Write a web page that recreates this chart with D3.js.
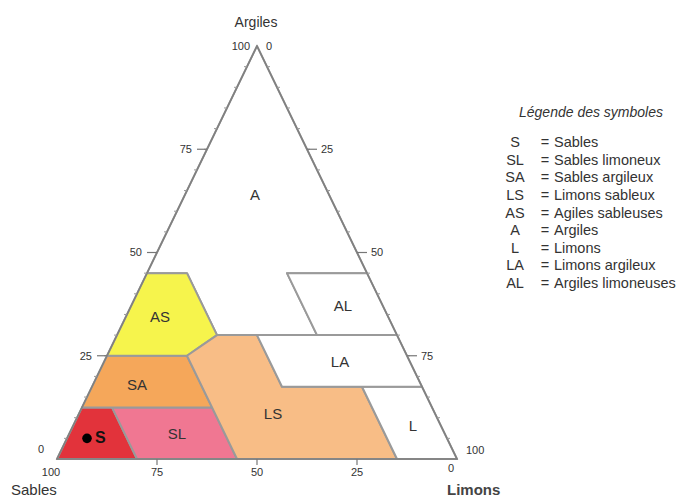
<!DOCTYPE html>
<html>
<head>
<meta charset="utf-8">
<script src="https://cdn.jsdelivr.net/npm/d3@7"></script>
<style>
  body { margin: 0; background: #fff; }
  text { font-family: "Liberation Sans", Arial, sans-serif; fill: #333; }
</style>
</head>
<body>
<div id="chart"></div>
<script>
// classes du triangle, sommets en (sables %, argiles %)
var classCodes = ["A", "S", "SL", "SA", "AS", "LS", "L", "LA", "AL"];
var classColors = ["#ffffff", "#e2333b", "#f07792", "#f5a75a", "#f6f44c", "#f8bd86", "#ffffff", "#ffffff", "#ffffff"];
var classPolys = [
  [[0,100],[55,45],[45,45],[45,30],[20,30],[20,45],[0,45]],
  [[100,0],[80,0],[80,12.5],[87.5,12.5]],
  [[80,0],[55,0],[55,12.5],[80,12.5]],
  [[87.5,12.5],[55,12.5],[55,25],[75,25]],
  [[75,25],[55,25],[50,27.5],[45,30],[45,45],[55,45]],
  [[55,0],[15,0],[15,17.5],[35,17.5],[35,30],[45,30],[50,27.5],[55,25]],
  [[15,0],[0,0],[0,17.5],[15,17.5]],
  [[35,17.5],[0,17.5],[0,30],[35,30]],
  [[20,30],[0,30],[0,45],[20,45]]
];
var classLabelAt = [[18.5,64],[86.5,5.3],[67,6],[71,18],[57,34.5],[40.5,11],[7,8],[17.5,23.5],[10,37]];

// echantillon
var samples = [[90, 5]];

var ticks = [0, 25, 50, 75, 100];
var minorTicks = d3.range(5, 100, 5);

var legendCodes = ["S", "SL", "SA", "LS", "AS", "A", "L", "LA", "AL"];
var legendNames = ["Sables", "Sables limoneux", "Sables argileux", "Limons sableux",
                   "Agiles sableuses", "Argiles", "Limons", "Limons argileux", "Argiles limoneuses"];

// 1: svg
var width = 682, height = 498;
var svg = d3.select("#chart").append("svg")
    .attr("width", width)
    .attr("height", height);

// 2: echelles
var x = d3.scaleLinear().domain([0, 100]).range([57, 457]);   // limons + argiles/2
var y = d3.scaleLinear().domain([0, 100]).range([459, 46]);   // argiles

function pt(sand, clay) {
  var silt = 100 - sand - clay;
  return [x(silt + clay / 2), y(clay)];
}

var line = d3.line().x(function(d){ return pt(d[0], d[1])[0]; })
                    .y(function(d){ return pt(d[0], d[1])[1]; })
                    .curve(d3.curveLinearClosed);

// 3: zones
svg.append("g").selectAll("path")
  .data(classPolys)
  .enter().append("path")
    .attr("d", line)
    .style("fill", function(d, i){ return classColors[i]; })
    .style("stroke", "#9a9a9a")
    .style("stroke-width", 2)
    .style("stroke-linejoin", "round");

// contour du triangle
svg.append("path")
  .datum([[100,0],[0,0],[0,100]])
  .attr("d", line)
  .style("fill", "none")
  .style("stroke", "#808080")
  .style("stroke-width", 1.6);

// graduations mineures
var g = svg.append("g").style("stroke", "#999").style("stroke-width", 1);
minorTicks.forEach(function(t) {
  var l = pt(100 - t, t), r = pt(0, t);
  g.append("line").attr("x1", l[0] - 3).attr("x2", l[0]).attr("y1", l[1]).attr("y2", l[1]);
  g.append("line").attr("x1", r[0]).attr("x2", r[0] + 3).attr("y1", r[1]).attr("y2", r[1]);
});

// graduations majeures
var tg = svg.append("g").style("font-size", "11px");
ticks.forEach(function(t) {
  // gauche : argiles
  var l = pt(100 - t, t);
  if (t > 0 && t < 100) {
    tg.append("line").attr("x1", l[0] - 10).attr("x2", l[0]).attr("y1", l[1]).attr("y2", l[1])
      .style("stroke", "#777").style("stroke-width", 1.2);
  }
  tg.append("text")
    .attr("x", t === 100 ? l[0] - 7 : (t === 0 ? l[0] - 13 : l[0] - 15))
    .attr("y", t === 0 ? l[1] - 10 : l[1])
    .attr("dy", "0.35em")
    .attr("text-anchor", "end")
    .text(t);
  // droite : limons
  var r = pt(0, 100 - t);
  if (t > 0 && t < 100) {
    tg.append("line").attr("x1", r[0]).attr("x2", r[0] + 10).attr("y1", r[1]).attr("y2", r[1])
      .style("stroke", "#777").style("stroke-width", 1.2);
  }
  tg.append("text")
    .attr("x", t === 0 ? r[0] + 9 : (t === 100 ? r[0] + 9 : r[0] + 14))
    .attr("y", t === 100 ? r[1] - 9 : r[1])
    .attr("dy", "0.35em")
    .attr("text-anchor", "start")
    .text(t);
  // bas : sables
  var b = pt(t, 0);
  if (t > 0 && t < 100) {
    tg.append("line").attr("x1", b[0]).attr("x2", b[0]).attr("y1", b[1]).attr("y2", b[1] + 6)
      .style("stroke", "#777").style("stroke-width", 1.2);
  }
  tg.append("text")
    .attr("x", t === 0 ? b[0] - 6 : (t === 100 ? b[0] - 6 : b[0]))
    .attr("y", t === 0 ? b[1] + 13 : b[1] + 17)
    .attr("text-anchor", "middle")
    .text(t);
});

// titres des axes
svg.append("text").attr("x", 256).attr("y", 27).attr("text-anchor", "middle")
  .style("font-size", "14px").text("Argiles");
svg.append("text").attr("x", 11).attr("y", 495)
  .style("font-size", "15px").text("Sables");
svg.append("text").attr("x", 447).attr("y", 495)
  .style("font-size", "15px").style("font-weight", "bold").style("fill", "#444").text("Limons");

// etiquettes des zones
svg.append("g").selectAll("text")
  .data(classLabelAt)
  .enter().append("text")
    .attr("x", function(d){ return pt(d[0], d[1])[0]; })
    .attr("y", function(d){ return pt(d[0], d[1])[1]; })
    .attr("dy", "0.35em")
    .attr("text-anchor", "middle")
    .style("font-size", function(d, i){ return classCodes[i] === "S" ? "16px" : "15px"; })
    .style("font-weight", function(d, i){ return classCodes[i] === "S" ? "bold" : "normal"; })
    .style("fill", function(d, i){ return classCodes[i] === "S" ? "#111" : "#333"; })
    .text(function(d, i){ return classCodes[i]; });

// point
svg.append("g").selectAll("circle")
  .data(samples)
  .enter().append("circle")
    .attr("cx", function(d){ return pt(d[0], d[1])[0]; })
    .attr("cy", function(d){ return pt(d[0], d[1])[1]; })
    .attr("r", 4.8)
    .style("fill", "#000");

// legende
var lg = svg.append("g");
lg.append("text").attr("x", 591).attr("y", 117).attr("text-anchor", "middle")
  .style("font-size", "14px").style("font-style", "italic").text("Légende des symboles");
var ly = d3.scalePoint().domain(legendCodes).range([142, 283]);
legendCodes.forEach(function(c, i) {
  var yy = ly(c);
  lg.append("text").attr("x", 515).attr("y", yy).attr("dy", "0.35em")
    .attr("text-anchor", "middle").style("font-size", "14.5px").text(c);
  lg.append("text").attr("x", 545).attr("y", yy).attr("dy", "0.35em")
    .attr("text-anchor", "middle").style("font-size", "14.5px").text("=");
  lg.append("text").attr("x", 554).attr("y", yy).attr("dy", "0.35em")
    .style("font-size", "14.5px").text(legendNames[i]);
});
</script>
</body>
</html>
